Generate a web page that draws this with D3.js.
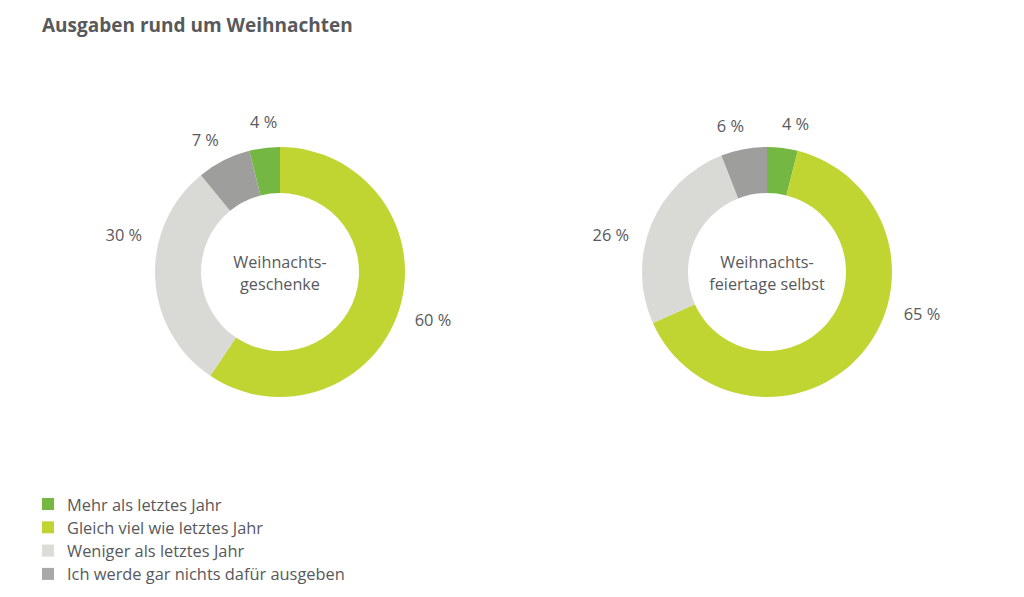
<!DOCTYPE html>
<html><head><meta charset="utf-8">
<script src="https://cdn.jsdelivr.net/npm/d3@7"></script>
<style>
html,body{margin:0;padding:0;background:#fff;}
svg{display:block;font-family:"Open Sans",sans-serif;}
</style></head>
<body>
<svg id="chart" width="1024" height="597"></svg>
<script>
const title = "Ausgaben rund um Weihnachten";
const categories = ["Mehr als letztes Jahr", "Gleich viel wie letztes Jahr", "Weniger als letztes Jahr", "Ich werde gar nichts dafür ausgeben"];
const colors = ["#74b843", "#c1d532", "#d9d9d5", "#9e9f9d"];
const legendColors = ["#74b843", "#c1d532", "#dcdcd9", "#a8a8a8"];
const chartNames = [["Weihnachts-", "geschenke"], ["Weihnachts-", "feiertage selbst"]];
const valuesGeschenke = [4, 60, 30, 7];
const valuesFeiertage = [4, 65, 26, 6];
const labelsGeschenke = ["4 %", "60 %", "30 %", "7 %"];
const labelsFeiertage = ["4 %", "65 %", "26 %", "6 %"];

// layout
const svg = d3.select("#chart");
const textColor = "#58595b";
const outerR = 125, innerR = 79;
const charts = [
  {values: valuesGeschenke, labels: labelsGeschenke, name: chartNames[0], cx: 280, cy: 272, startFirstAtTop: false, labelAngles: [354, 108.5, 284.5, 331.5]},
  {values: valuesFeiertage, labels: labelsFeiertage, name: chartNames[1], cx: 767, cy: 272, startFirstAtTop: true, labelAngles: [10.5, 106, 284.5, 346.5]}
];

svg.append("text").attr("x", 42).attr("y", 32)
  .attr("font-size", 19).attr("font-weight", 700).attr("fill", textColor)
  .text(title);

const arc = d3.arc().innerRadius(innerR).outerRadius(outerR);

charts.forEach(c => {
  const total = d3.sum(c.values);
  const offset = c.startFirstAtTop ? 0 : -c.values[0] / total * 2 * Math.PI;
  const pie = d3.pie().sort(null).value(d => d)
    .startAngle(offset).endAngle(offset + 2 * Math.PI);
  const arcs = pie(c.values);
  const g = svg.append("g").attr("transform", `translate(${c.cx},${c.cy})`);
  g.selectAll("path").data(arcs).join("path")
    .attr("d", arc).attr("fill", (d, i) => colors[i]);

  const lbl = g.selectAll("text.lbl").data(arcs).join("text")
    .attr("class", "lbl")
    .attr("font-size", 16.4).attr("fill", textColor)
    .attr("text-anchor", "middle").attr("dominant-baseline", "central")
    .text((d, i) => c.labels[i]);
  lbl.each(function(d, i) {
    const a = c.labelAngles[i] * Math.PI / 180;
    const w = this.getComputedTextLength();
    const r = 143;
    const x = r * Math.sin(a) + Math.sin(a) * w / 2;
    const y = -r * Math.cos(a) - Math.cos(a) * 8;
    d3.select(this).attr("x", x).attr("y", y);
  });

  g.selectAll("text.name").data(c.name).join("text")
    .attr("class", "name")
    .attr("font-size", 16.2).attr("fill", textColor)
    .attr("text-anchor", "middle").attr("dominant-baseline", "central")
    .attr("y", (d, i) => -10 + i * 22)
    .text(d => d);
});

const legend = svg.append("g").attr("transform", "translate(42,498)");
const rowH = 23.3;
categories.forEach((cat, i) => {
  legend.append("rect").attr("x", 0).attr("y", i * rowH).attr("width", 12).attr("height", 12)
    .attr("fill", legendColors[i]);
  legend.append("text").attr("x", 25).attr("y", i * rowH + 6)
    .attr("dominant-baseline", "central")
    .attr("font-size", 16.4).attr("fill", textColor).text(cat);
});
</script>
</body></html>
